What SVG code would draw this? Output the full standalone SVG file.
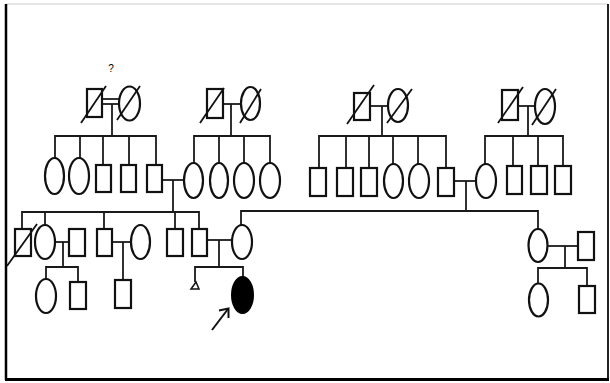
<svg xmlns="http://www.w3.org/2000/svg" width="610" height="383" viewBox="0 0 610 383">
<style>
.s{fill:#fff;stroke:#111;stroke-width:2.2}
.f{fill:#000;stroke:#000;stroke-width:2}
.c{fill:none;stroke:#1a1a1a;stroke-width:1.8}
.d{fill:none;stroke:#111;stroke-width:1.8}
.t{font-family:"Liberation Sans",Arial,sans-serif;font-size:10px;fill:#000}
</style>
<rect x="0" y="0" width="610" height="383" fill="#fff"/>
<g id="frame">
<line x1="6" y1="4" x2="608" y2="4" stroke="#ccc" stroke-width="1"/>
<line x1="608" y1="4" x2="608" y2="380" stroke="#222" stroke-width="2"/>
<line x1="6" y1="4" x2="6" y2="380" stroke="#000" stroke-width="2.5"/>
<line x1="5" y1="379.5" x2="609" y2="379.5" stroke="#000" stroke-width="3"/>
</g>
<g id="connectors">
<line class="c" x1="102" y1="99" x2="119" y2="99"/>
<line class="c" x1="102" y1="104" x2="119" y2="104"/>
<line class="c" x1="112" y1="104" x2="112" y2="136"/>
<polyline class="c" points="55,158 55,136 156,136 156,165"/>
<line class="c" x1="80" y1="136" x2="80" y2="158"/>
<line class="c" x1="103" y1="136" x2="103" y2="165"/>
<line class="c" x1="129" y1="136" x2="129" y2="165"/>
<line class="c" x1="223" y1="104" x2="241" y2="104"/>
<line class="c" x1="231" y1="104" x2="231" y2="136"/>
<polyline class="c" points="194,163 194,136 270,136 270,163"/>
<line class="c" x1="219" y1="136" x2="219" y2="163"/>
<line class="c" x1="244" y1="136" x2="244" y2="163"/>
<line class="c" x1="370" y1="106" x2="388" y2="106"/>
<line class="c" x1="382" y1="106" x2="382" y2="136"/>
<polyline class="c" points="319,168 319,136 446,136 446,168"/>
<line class="c" x1="346" y1="136" x2="346" y2="168"/>
<line class="c" x1="369" y1="136" x2="369" y2="168"/>
<line class="c" x1="393" y1="136" x2="393" y2="164"/>
<line class="c" x1="418" y1="136" x2="418" y2="164"/>
<line class="c" x1="518" y1="106" x2="535" y2="106"/>
<line class="c" x1="528" y1="106" x2="528" y2="136"/>
<polyline class="c" points="485,164 485,136 563,136 563,166"/>
<line class="c" x1="513" y1="136" x2="513" y2="166"/>
<line class="c" x1="538" y1="136" x2="538" y2="166"/>
<line class="c" x1="162" y1="180" x2="184" y2="180"/>
<line class="c" x1="173" y1="180" x2="173" y2="212"/>
<line class="c" x1="454" y1="181" x2="476" y2="181"/>
<line class="c" x1="466" y1="181" x2="466" y2="211"/>
<polyline class="c" points="22,229 22,212 199,212 199,229"/>
<line class="c" x1="45" y1="212" x2="45" y2="225"/>
<line class="c" x1="104" y1="212" x2="104" y2="229"/>
<line class="c" x1="175" y1="212" x2="175" y2="229"/>
<polyline class="c" points="241,225 241,211 538,211 538,229"/>
<line class="c" x1="55" y1="242" x2="69" y2="242"/>
<line class="c" x1="63" y1="242" x2="63" y2="267"/>
<polyline class="c" points="46,279 46,267 78,267 78,282"/>
<line class="c" x1="112" y1="242" x2="131" y2="242"/>
<line class="c" x1="123" y1="242" x2="123" y2="280"/>
<line class="c" x1="207" y1="240" x2="232" y2="240"/>
<line class="c" x1="219" y1="240" x2="219" y2="267"/>
<polyline class="c" points="195,282 195,267 243,267 243,277"/>
<line class="c" x1="547" y1="246" x2="578" y2="246"/>
<line class="c" x1="565" y1="246" x2="565" y2="268"/>
<polyline class="c" points="538,284 538,268 587,268 587,286"/>
</g>
<text class="t" x="111" y="72" text-anchor="middle">?</text>
<g id="gp1m"><rect class="s" x="87" y="89" width="15" height="28"/><line class="d" x1="81" y1="123" x2="106" y2="86"/></g>
<g id="gp1f"><ellipse class="s" cx="129.5" cy="103.5" rx="10.5" ry="17"/><line class="d" x1="117" y1="120" x2="140" y2="86"/></g>
<g id="gp2m"><rect class="s" x="207" y="89" width="16" height="29"/><line class="d" x1="200" y1="123" x2="224" y2="88"/></g>
<g id="gp2f"><ellipse class="s" cx="250.5" cy="103.5" rx="9.5" ry="16.5"/><line class="d" x1="240" y1="123" x2="261" y2="89"/></g>
<g id="gp3m"><rect class="s" x="354" y="93" width="16" height="27"/><line class="d" x1="347" y1="124" x2="374" y2="85"/></g>
<g id="gp3f"><ellipse class="s" cx="398" cy="105.5" rx="10" ry="16.5"/><line class="d" x1="387" y1="123" x2="412" y2="89"/></g>
<g id="gp4m"><rect class="s" x="502" y="90" width="16" height="30"/><line class="d" x1="498" y1="123" x2="523" y2="87"/></g>
<g id="gp4f"><ellipse class="s" cx="545" cy="106.5" rx="10" ry="17.5"/><line class="d" x1="532" y1="125" x2="556" y2="89"/></g>
<g id="a1"><ellipse class="s" cx="54.5" cy="176" rx="9.5" ry="18"/></g>
<g id="a2"><ellipse class="s" cx="79" cy="176" rx="10" ry="18"/></g>
<g id="a3"><rect class="s" x="96" y="165" width="15" height="27"/></g>
<g id="a4"><rect class="s" x="121" y="165" width="15" height="27"/></g>
<g id="a5"><rect class="s" x="147" y="165" width="15" height="27"/></g>
<g id="b1"><ellipse class="s" cx="193.5" cy="180.5" rx="9.5" ry="17.5"/></g>
<g id="b2"><ellipse class="s" cx="219" cy="180.5" rx="9" ry="17.5"/></g>
<g id="b3"><ellipse class="s" cx="244" cy="180.5" rx="10" ry="17.5"/></g>
<g id="b4"><ellipse class="s" cx="270" cy="180.5" rx="10" ry="17.5"/></g>
<g id="c1"><rect class="s" x="310" y="168" width="16" height="28"/></g>
<g id="c2"><rect class="s" x="337" y="168" width="16" height="28"/></g>
<g id="c3"><rect class="s" x="361" y="168" width="16" height="28"/></g>
<g id="c4"><ellipse class="s" cx="393.5" cy="181" rx="9.5" ry="17"/></g>
<g id="c5"><ellipse class="s" cx="419" cy="181" rx="10" ry="17"/></g>
<g id="c6"><rect class="s" x="438" y="168" width="16" height="28"/></g>
<g id="d1"><ellipse class="s" cx="486" cy="181" rx="10" ry="17"/></g>
<g id="d2"><rect class="s" x="507" y="166" width="15" height="28"/></g>
<g id="d3"><rect class="s" x="531" y="166" width="16" height="28"/></g>
<g id="d4"><rect class="s" x="555" y="166" width="16" height="28"/></g>
<g id="e1"><rect class="s" x="15" y="229" width="16" height="27"/><line class="d" x1="7" y1="266" x2="37" y2="224"/></g>
<g id="e2"><ellipse class="s" cx="45" cy="242" rx="10" ry="17"/></g>
<g id="e2h"><rect class="s" x="69" y="229" width="16" height="27"/></g>
<g id="e3"><rect class="s" x="97" y="229" width="15" height="27"/></g>
<g id="e3w"><ellipse class="s" cx="140.5" cy="242" rx="9.5" ry="17"/></g>
<g id="e4"><rect class="s" x="167" y="229" width="16" height="27"/></g>
<g id="e5"><rect class="s" x="192" y="229" width="15" height="27"/></g>
<g id="e5w"><ellipse class="s" cx="242" cy="242" rx="10" ry="17"/></g>
<g id="f1"><ellipse class="s" cx="538" cy="245.5" rx="9.5" ry="16.5"/></g>
<g id="f1h"><rect class="s" x="578" y="232" width="16" height="28"/></g>
<g id="g1"><ellipse class="s" cx="46" cy="296" rx="10" ry="17"/></g>
<g id="g2"><rect class="s" x="70" y="282" width="16" height="27"/></g>
<g id="g3"><rect class="s" x="115" y="280" width="16" height="28"/></g>
<g id="g4"><polygon points="196,282 191,289 199,289" fill="#fff" stroke="#111" stroke-width="1.5"/></g>
<g id="proband"><ellipse class="f" cx="242.5" cy="295" rx="10.5" ry="18"/>
<line x1="212" y1="330" x2="228" y2="309" stroke="#111" stroke-width="2"/>
<polyline points="219,310.5 228.5,308.5 228.5,318" fill="none" stroke="#111" stroke-width="2"/></g>
<g id="h1"><ellipse class="s" cx="538.5" cy="300" rx="9.5" ry="16.5"/></g>
<g id="h2"><rect class="s" x="579" y="286" width="16" height="27"/></g>
</svg>
